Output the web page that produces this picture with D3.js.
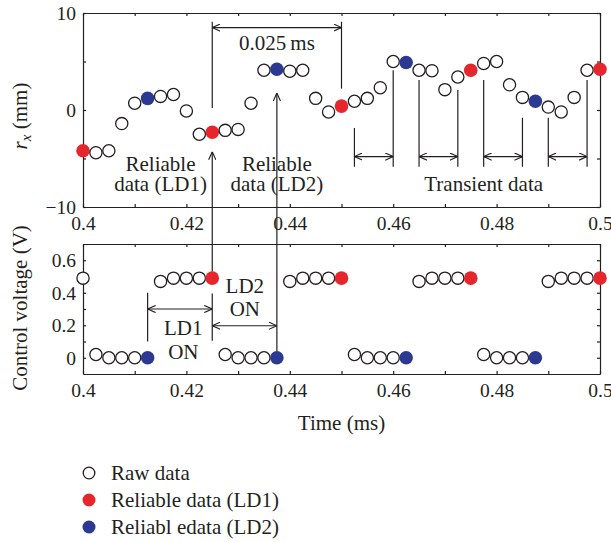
<!DOCTYPE html>
<html>
<head>
<meta charset="utf-8">
<script src="https://cdn.jsdelivr.net/npm/d3@7"></script>
<style>
  body { margin: 0; background: #fff; }
  svg { display: block; font-family: "Liberation Serif", "DejaVu Serif", serif; }
  .axis text { font-size: 19.5px; fill: #231f20; font-family: "Liberation Serif", serif; }
  .axis path, .axis line { stroke: #231f20; stroke-width: 1.2; }
  .note { stroke: #231f20; stroke-width: 1.2; fill: none; }
  .lbl { font-size: 21px; fill: #231f20; }
</style>
</head>
<body>
<div id="chart"></div>
<script>
// sample instants (ms), one every 0.0025 ms
const sampleTimes = [0.4, 0.4025, 0.405, 0.4075, 0.41, 0.4125, 0.415, 0.4175, 0.42, 0.4225,
  0.425, 0.4275, 0.43, 0.4325, 0.435, 0.4375, 0.44, 0.4425, 0.445, 0.4475,
  0.45, 0.4525, 0.455, 0.4575, 0.46, 0.4625, 0.465, 0.4675, 0.47, 0.4725,
  0.475, 0.4775, 0.48, 0.4825, 0.485, 0.4875, 0.49, 0.4925, 0.495, 0.4975, 0.5];

// r_x (mm)
const rxValues = [-4.2, -4.4, -4.2, -1.4, 0.7, 1.2, 1.4, 1.6, -0.1, -2.5,
  -2.3, -2.1, -2.0, 0.7, 4.1, 4.2, 4.0, 4.1, 1.2, -0.2,
  0.4, 0.9, 1.2, 2.3, 5.0, 4.9, 4.1, 4.05, 2.1, 3.4,
  4.1, 4.8, 5.0, 2.6, 1.3, 0.9, 0.3, -0.2, 1.3, 4.1, 4.2];

// control voltage (V)
const voltValues = [0.49, 0.02, 0, 0, 0, 0, 0.47, 0.49, 0.49, 0.49,
  0.49, 0.02, 0, 0, 0, 0, 0.47, 0.49, 0.49, 0.49,
  0.49, 0.02, 0, 0, 0, 0, 0.47, 0.49, 0.49, 0.49,
  0.49, 0.02, 0, 0, 0, 0, 0.47, 0.49, 0.49, 0.49, 0.49];

// which samples are the reliable ones
const rxLd1Times = [0.4, 0.425, 0.45, 0.475, 0.5];
const rxLd2Times = [0.4125, 0.4375, 0.4625, 0.4875];
const voltLd1Times = [0.425, 0.45, 0.475, 0.5];
const voltLd2Times = [0.4125, 0.4375, 0.4625, 0.4875];

const xTicks = [0.4, 0.41, 0.42, 0.43, 0.44, 0.45, 0.46, 0.47, 0.48, 0.49, 0.5];
const xLabels = [0.4, 0.42, 0.44, 0.46, 0.48, 0.5];
const rxTicks = [-10, -5, 0, 5, 10];
const rxLabels = [-10, 0, 10];
const voltTicks = [0, 0.1, 0.2, 0.3, 0.4, 0.5, 0.6];
const voltLabels = [0, 0.2, 0.4, 0.6];

const legendItems = ['Raw data', 'Reliable data (LD1)', 'Reliabl edata (LD2)'];

const colors = {raw: '#ffffff', ld1: '#e5262d', ld2: '#2b3990'};

const W = 611, H = 542;
const svg = d3.select('#chart').append('svg').attr('width', W).attr('height', H);

svg.append('defs').append('marker')
    .attr('id', 'head')
    .attr('viewBox', '0 0 10 10')
    .attr('refX', 10).attr('refY', 5)
    .attr('markerWidth', 8).attr('markerHeight', 8)
    .attr('markerUnits', 'userSpaceOnUse')
    .attr('orient', 'auto-start-reverse')
  .append('path')
    .attr('d', 'M0,0.5 L10,5 L0,9.5')
    .attr('fill', 'none')
    .attr('stroke', '#231f20')
    .attr('stroke-width', 1.4);

const x = d3.scaleLinear().domain([0.4, 0.5]).range([83, 600]);
const yTop = d3.scaleLinear().domain([-10, 10]).range([207, 13]);
const yBot = d3.scaleLinear().domain([-0.1, 0.7]).range([374, 244]);

const fmt = d => xLabels.some(v => Math.abs(v - d) < 1e-9) ? d3.format('~g')(d) : '';

function frame(y, ticks, labels, labelFmt) {
  const [y0, y1] = y.range();
  svg.append('g').attr('class', 'axis').attr('transform', `translate(0,${y0})`)
    .call(d3.axisBottom(x).tickValues(xTicks).tickSize(-3).tickSizeOuter(0).tickPadding(9).tickFormat(fmt));
  svg.append('g').attr('class', 'axis').attr('transform', `translate(0,${y1})`)
    .call(d3.axisTop(x).tickValues(xTicks).tickSize(-3).tickSizeOuter(0).tickFormat(''));
  svg.append('g').attr('class', 'axis').attr('transform', `translate(${x.range()[0]},0)`)
    .call(d3.axisLeft(y).tickValues(ticks).tickSize(-3).tickSizeOuter(0).tickPadding(7)
      .tickFormat(d => labels.some(v => Math.abs(v - d) < 1e-9) ? labelFmt(d) : ''));
  svg.append('g').attr('class', 'axis').attr('transform', `translate(${x.range()[1]},0)`)
    .call(d3.axisRight(y).tickValues(ticks).tickSize(-3).tickSizeOuter(0).tickFormat(''));
}

frame(yTop, rxTicks, rxLabels, d => d < 0 ? '\u2212' + Math.abs(d) : String(d));
frame(yBot, voltTicks, voltLabels, d3.format('~g'));

// annotation lines
function seg(x1, y1, x2, y2, heads) {
  const l = svg.append('line').attr('class', 'note')
    .attr('x1', x1).attr('y1', y1).attr('x2', x2).attr('y2', y2);
  if (heads === 'end' || heads === 'both') l.attr('marker-end', 'url(#head)');
  if (heads === 'start' || heads === 'both') l.attr('marker-start', 'url(#head)');
}

// 0.025 ms span
seg(x(0.425), yTop(9.1), x(0.425), yTop(0.2));
seg(x(0.45), yTop(9.1), x(0.45), yTop(2.2));
seg(x(0.425), yTop(8.5), x(0.45), yTop(8.5), 'both');

// arrows from the control voltage up to the reliable samples
seg(x(0.425), yBot(0.53), x(0.425), yTop(-4.3), 'end');
seg(x(0.4375), yBot(0.04), x(0.4375), yTop(1.75), 'end');

// transient spans
const transient = [[0.4525, -1.85, 0.46, 4.1], [0.465, 3.1, 0.4725, 2.05],
  [0.4775, 3.1, 0.485, -0.8], [0.49, -0.8, 0.4975, 3.1]];
transient.forEach(([t1, v1, t2, v2]) => {
  seg(x(t1), yTop(v1), x(t1), yTop(-5.85));
  seg(x(t2), yTop(v2), x(t2), yTop(-5.85));
  seg(x(t1), yTop(-4.8), x(t2), yTop(-4.8), 'both');
});

// LD1 / LD2 on spans
seg(x(0.4125), yBot(0.4), x(0.4125), yBot(0.1));
seg(x(0.425), yBot(0.395), x(0.425), yBot(0.105));
seg(x(0.4125), yBot(0.3), x(0.425), yBot(0.3), 'both');
seg(x(0.425), yBot(0.197), x(0.4375), yBot(0.197), 'both');

function text(tx, ty, s) {
  return svg.append('text').attr('class', 'lbl').attr('x', tx).attr('y', ty)
    .attr('text-anchor', 'middle').text(s);
}
text(x(0.4375), yTop(6.2), '0.025\u2009ms');
text(x(0.415), yTop(-6.3), 'Reliable');
text(x(0.415), yTop(-8.35), 'data (LD1)');
text(x(0.4375), yTop(-6.3), 'Reliable');
text(x(0.4375), yTop(-8.35), 'data (LD2)');
text(x(0.4775), yTop(-8.35), 'Transient data');
text(x(0.4194), yBot(0.141), 'LD1');
text(x(0.4194), yBot(-0.008), 'ON');
text(x(0.4313), yBot(0.40), 'LD2');
text(x(0.4313), yBot(0.255), 'ON');

// points
function kind(t, ld1, ld2) {
  if (ld1.some(v => Math.abs(v - t) < 1e-9)) return 'ld1';
  if (ld2.some(v => Math.abs(v - t) < 1e-9)) return 'ld2';
  return 'raw';
}

function dots(values, y, ld1, ld2) {
  const pts = sampleTimes.map((t, i) => ({t, v: values[i], k: kind(t, ld1, ld2)}));
  svg.append('g').selectAll('circle')
    .data(pts)
    .join('circle')
    .attr('cx', d => x(d.t))
    .attr('cy', d => y(d.v))
    .attr('r', d => d.k === 'raw' ? 6.1 : 6.8)
    .attr('fill', d => colors[d.k])
    .attr('stroke', d => d.k === 'raw' ? '#231f20' : 'none')
    .attr('stroke-width', 1.3);
}
dots(rxValues, yTop, rxLd1Times, rxLd2Times);
dots(voltValues, yBot, voltLd1Times, voltLd2Times);

// axis titles
const rxTitle = svg.append('text').attr('class', 'lbl')
  .attr('transform', 'translate(27,116) rotate(-90)')
  .attr('text-anchor', 'middle');
rxTitle.append('tspan').attr('font-style', 'italic').text('r');
rxTitle.append('tspan').attr('font-style', 'italic').attr('font-size', 15).attr('dy', 4).text('x');
rxTitle.append('tspan').attr('dy', -4).text(' (mm)');

svg.append('text').attr('class', 'lbl')
  .attr('transform', 'translate(27,308) rotate(-90)')
  .attr('text-anchor', 'middle')
  .text('Control voltage (V)');

text(x(0.45), 430, 'Time (ms)');

// legend
const legend = svg.append('g');
legend.selectAll('circle')
  .data(legendItems)
  .join('circle')
  .attr('cx', 89)
  .attr('cy', (d, i) => 473 + i * 27)
  .attr('r', (d, i) => i === 0 ? 5.8 : 6.5)
  .attr('fill', (d, i) => [colors.raw, colors.ld1, colors.ld2][i])
  .attr('stroke', (d, i) => i === 0 ? '#231f20' : 'none')
  .attr('stroke-width', 1.3);
legend.selectAll('text')
  .data(legendItems)
  .join('text')
  .attr('class', 'lbl')
  .attr('x', 111)
  .attr('y', (d, i) => 473 + i * 27)
  .attr('dy', '0.35em')
  .text(d => d);
</script>
</body>
</html>
